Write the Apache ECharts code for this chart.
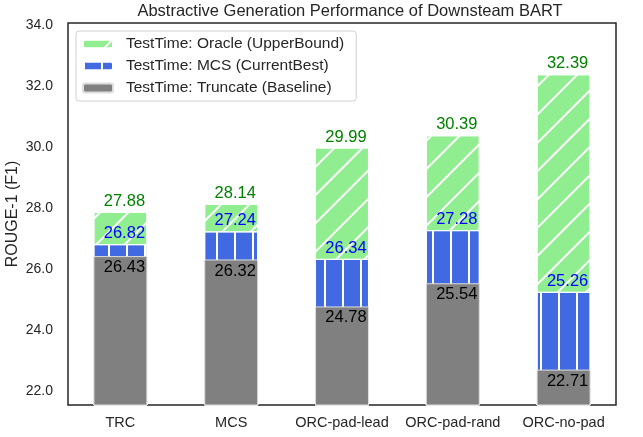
<!DOCTYPE html>
<html>
<head>
<meta charset="utf-8">
<script src="https://cdn.jsdelivr.net/npm/echarts@6/dist/echarts.min.js"></script>
<style>
  html, body { margin: 0; padding: 0; background: #fff; }
  #main { width: 643px; height: 437px; }
</style>
</head>
<body>
<div id="main"></div>
<script>
var categories = ['TRC', 'MCS', 'ORC-pad-lead', 'ORC-pad-rand', 'ORC-no-pad'];
var oracle = [27.88, 28.14, 29.99, 30.39, 32.39];
var mcs = [26.82, 27.24, 26.34, 27.28, 25.26];
var truncate = [26.43, 26.32, 24.78, 25.54, 22.71];
var yTicks = [22, 24, 26, 28, 30, 32, 34];

var font = 'Liberation Sans, Arial, sans-serif';
var chart = echarts.init(document.getElementById('main'));

// bars sit at x = 0..4 on a value axis so the side margins can match
var toPoints = function(arr) {
	return arr.map(function(v, i) {
		return [ i, v ];
	});
};

var valueLabel = function(color, pos, dist) {
	return {
		show : true,
		position : pos,
		distance : dist,
		offset : [ 4, 0 ],
		color : color,
		fontFamily : font,
		fontSize : 16.5,
		formatter : function(p) {
			return p.value[1].toFixed(2);
		}
	};
};

var option = {
	animation : false,
	title : {
		text : 'Abstractive Generation Performance of Downsteam BART',
		left : 345,
		textAlign : 'center',
		top : -2,
		textStyle : {
			fontFamily : font,
			fontSize : 16.5,
			fontWeight : 'normal',
			color : '#262626'
		}
	},
	legend : {
		orient : 'vertical',
		left : 76,
		top : 31,
		padding : [ 5, 12, 5, 6 ],
		itemWidth : 30,
		itemHeight : 9,
		itemGap : 6,
		borderColor : '#d0d0d0',
		borderWidth : 1,
		borderRadius : 3,
		backgroundColor : '#fff',
		textStyle : {
			fontFamily : font,
			fontSize : 15.5,
			color : '#262626',
			padding : [ 0, 0, 0, 8 ]
		},
		data : [ 'TestTime: Oracle (UpperBound)', 'TestTime: MCS (CurrentBest)',
				'TestTime: Truncate (Baseline)' ]
	},
	grid : {
		left : 68,
		right : 27,
		top : 23,
		bottom : 32,
		outerBoundsMode : 'none',
		show : true,
		borderColor : '#262626',
		borderWidth : 1.5,
		backgroundColor : 'transparent'
	},
	xAxis : {
		type : 'value',
		min : -0.473,
		max : 4.473,
		splitLine : { show : false },
		axisLine : { show : false },
		axisTick : { show : false },
		axisLabel : {
			customValues : [ 0, 1, 2, 3, 4 ],
			margin : 10,
			fontFamily : font,
			fontSize : 14.5,
			color : '#262626',
			formatter : function(v) {
				return categories[Math.round(v)] || '';
			}
		}
	},
	yAxis : {
		type : 'value',
		min : 21.55,
		max : 34.07,
		name : 'ROUGE-1 (F1)',
		nameLocation : 'middle',
		nameGap : 47,
		nameMoveOverlap : false,
		nameTextStyle : {
			fontFamily : font,
			fontSize : 16,
			color : '#262626'
		},
		splitLine : { show : false },
		axisLine : { show : false },
		axisTick : { show : false },
		axisLabel : {
			customValues : yTicks,
			margin : 15,
			fontFamily : font,
			fontSize : 14,
			color : '#262626',
			formatter : function(v) {
				return v.toFixed(1);
			}
		}
	},
	series : [ {
		name : 'TestTime: Oracle (UpperBound)',
		type : 'bar',
		data : toPoints(oracle),
		barWidth : '48.7%',
		barGap : '-100%',
		itemStyle : {
			color : '#90ee90',
			borderColor : '#fff',
			borderWidth : 1,
			decal : {
				symbol : 'rect',
				symbolSize : 1,
				color : '#fff',
				dashArrayX : [ 1, 0 ],
				dashArrayY : [ 1.5, 17.5 ],
				rotation : -Math.PI / 4
			}
		},
		label : valueLabel('#008000', 'top', 2)
	}, {
		name : 'TestTime: MCS (CurrentBest)',
		type : 'bar',
		data : toPoints(mcs),
		barWidth : '48.7%',
		barGap : '-100%',
		itemStyle : {
			color : '#4169e1',
			borderColor : '#fff',
			borderWidth : 1,
			decal : {
				symbol : 'rect',
				symbolSize : 1,
				color : '#fff',
				dashArrayX : [ 1.5, 15.5 ],
				dashArrayY : [ 1, 0 ]
			}
		},
		label : valueLabel('#0000ff', 'top', 2)
	}, {
		name : 'TestTime: Truncate (Baseline)',
		type : 'bar',
		data : toPoints(truncate),
		barWidth : '48.7%',
		barGap : '-100%',
		itemStyle : {
			color : '#808080',
			borderColor : '#ddd',
			borderWidth : 1
		},
		label : valueLabel('#000', 'insideTop', 3)
	} ]
};
chart.setOption(option);
</script>
</body>
</html>
